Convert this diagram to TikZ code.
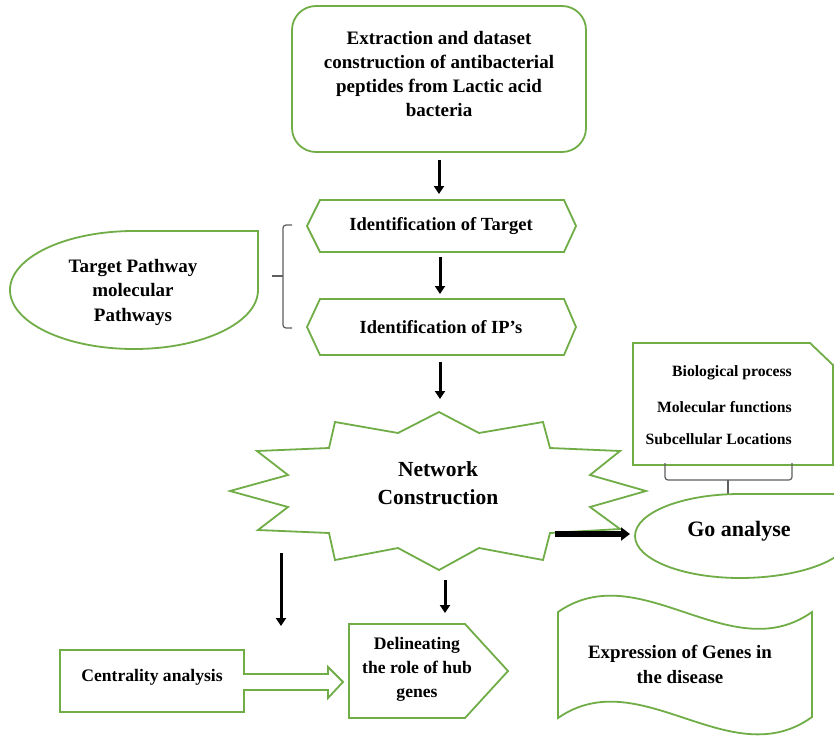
\documentclass[tikz,border=0pt]{standalone}
\usepackage{fontspec}
\setmainfont{Liberation Serif}
\usetikzlibrary{arrows.meta}
\definecolor{grn}{RGB}{112,173,71}
\definecolor{brk}{RGB}{95,95,95}
\begin{document}
\begin{tikzpicture}[x=1pt,y=-1pt,
  shp/.style={draw=grn,line width=1.8pt,line join=miter},
  lbl/.style={align=center,font=\bfseries\fontsize{18.5}{24}\selectfont,inner sep=0pt},
  arr/.style={line width=3pt,-{Triangle[length=8pt,width=10pt]}},
  thickarr/.style={line width=5.5pt,-{Triangle[length=9pt,width=13pt]}},
  bracestyle/.style={draw=brk,line width=1.2pt,rounded corners=3pt}]
\path[use as bounding box] (0,0) rectangle (834,738);
\fill[white] (0,0) rectangle (834,738);

% top rounded box
\draw[shp,rounded corners=24pt] (292,6) rectangle (586,152);
\node[lbl,font=\bfseries\fontsize{19}{24}\selectfont] (top) at (439,74)
  {Extraction and dataset\\construction of antibacterial\\peptides from Lactic acid\\bacteria};
\coordinate (topS) at (439,160);

% hexagon 1
\draw[shp] (307,226) -- (320,200) -- (564,200) -- (576,226) -- (564,252) -- (320,252) -- cycle;
\node[lbl] (hexA) at (441,226) {Identification of Target};
\coordinate (hexAN) at (439,194);
\coordinate (hexAS) at (440,257);

% hexagon 2
\draw[shp] (307,327) -- (320,299) -- (564,299) -- (576,327) -- (564,355) -- (320,355) -- cycle;
\node[lbl] (hexB) at (441,327) {Identification of IP’s};
\coordinate (hexBN) at (440,294);
\coordinate (hexBS) at (440,362);

% left teardrop
\draw[shp] (134,231) -- (258,231) -- (258,290)
  .. controls (258,322.6) and (202.5,349) .. (134,349)
  .. controls (65.5,349) and (10,322.6) .. (10,290)
  .. controls (10,257.4) and (65.5,231) .. (134,231) -- cycle;
\node[lbl,font=\bfseries\fontsize{19}{24.5}\selectfont] (tp) at (133,292)
  {Target Pathway\\molecular\\Pathways};

% left brace
\draw[bracestyle] (292,225) -- (283,225) -- (283,328) -- (292,328);
\draw[bracestyle] (283,276) -- (272,276);

% star
\draw[shp] (439,412) -- (479,433) -- (543,422) -- (550,448) -- (620,451) -- (590,475)
  -- (646,491) -- (590,507) -- (620,529) -- (550,533) -- (543,560) -- (479,548)
  -- (439,570) -- (398,548) -- (335,560) -- (329,533) -- (258,530) -- (288,507)
  -- (230,491) -- (288,475) -- (257,451) -- (329,448) -- (335,422) -- (398,433) -- cycle;
\node[lbl,font=\bfseries\fontsize{21.5}{28}\selectfont] (net) at (438,483) {Network\\Construction};
\coordinate (netN) at (440,399);
\coordinate (netE) at (555,534);
\coordinate (netL) at (281,553);
\coordinate (netS) at (445,580);

% snipped box
\draw[shp] (633,343) -- (810,343) -- (833,365) -- (833,465) -- (633,465) -- cycle;
\node[lbl,font=\bfseries\fontsize{15.7}{20}\selectfont,anchor=east] (bp) at (792,373) {Biological process};
\node[lbl,font=\bfseries\fontsize{15.7}{20}\selectfont,anchor=east] (mf) at (792,407) {Molecular functions};
\node[lbl,font=\bfseries\fontsize{15.7}{20}\selectfont,anchor=east] (sl) at (792,439) {Subcellular Locations};

% brace under box
\draw[bracestyle] (665,463) -- (665,480) -- (792,480) -- (792,463);
\draw[draw=brk,line width=1.2pt] (728,480) -- (728,494);

% Go analyse shape
\begin{scope}
\clip (0,0) rectangle (834,738);
\draw[shp] (740,494) -- (850,494) -- (850,536)
  .. controls (850,560) and (798,578) .. (740,578)
  .. controls (682,578) and (635,559.2) .. (635,536)
  .. controls (635,512.8) and (682,494) .. (740,494) -- cycle;
\end{scope}
\node[lbl,font=\bfseries\fontsize{22}{26}\selectfont] (go) at (739,531) {Go analyse};
\coordinate (goW) at (630,534);

% centrality box with outline arrow
\draw[shp] (244,674) -- (244,650) -- (60,650) -- (60,712) -- (244,712) -- (244,690)
  -- (328,690) -- (328,698) -- (343,682) -- (328,667) -- (328,674) -- cycle;
\node[lbl,font=\bfseries\fontsize{17.6}{22}\selectfont] (cen) at (152,677) {Centrality analysis};
\coordinate (cenN) at (281,626);

% delineating pentagon
\draw[shp] (349,624) -- (465,624) -- (508,671) -- (465,718) -- (349,718) -- cycle;
\node[lbl,font=\bfseries\fontsize{17.6}{24}\selectfont] (del) at (417,669) {Delineating\\the role of hub\\genes};
\coordinate (delN) at (445,613);

% wave banner
\draw[shp] (558,612) .. controls (640,555) and (730,670) .. (812,612) -- (812,717)
  .. controls (730,776) and (640,661) .. (558,718) -- cycle;
\node[lbl,font=\bfseries\fontsize{18.9}{25}\selectfont] (expr) at (680,664) {Expression of Genes in\\the disease};

% arrows
\draw[arr] (topS) -- (hexAN);
\draw[arr] (hexAS) -- (hexBN);
\draw[arr] (hexBS) -- (netN);
\draw[arr] (netL) -- (cenN);
\draw[arr] (netS) -- (delN);
\draw[thickarr] (netE) -- (goW);
\end{tikzpicture}
\end{document}
